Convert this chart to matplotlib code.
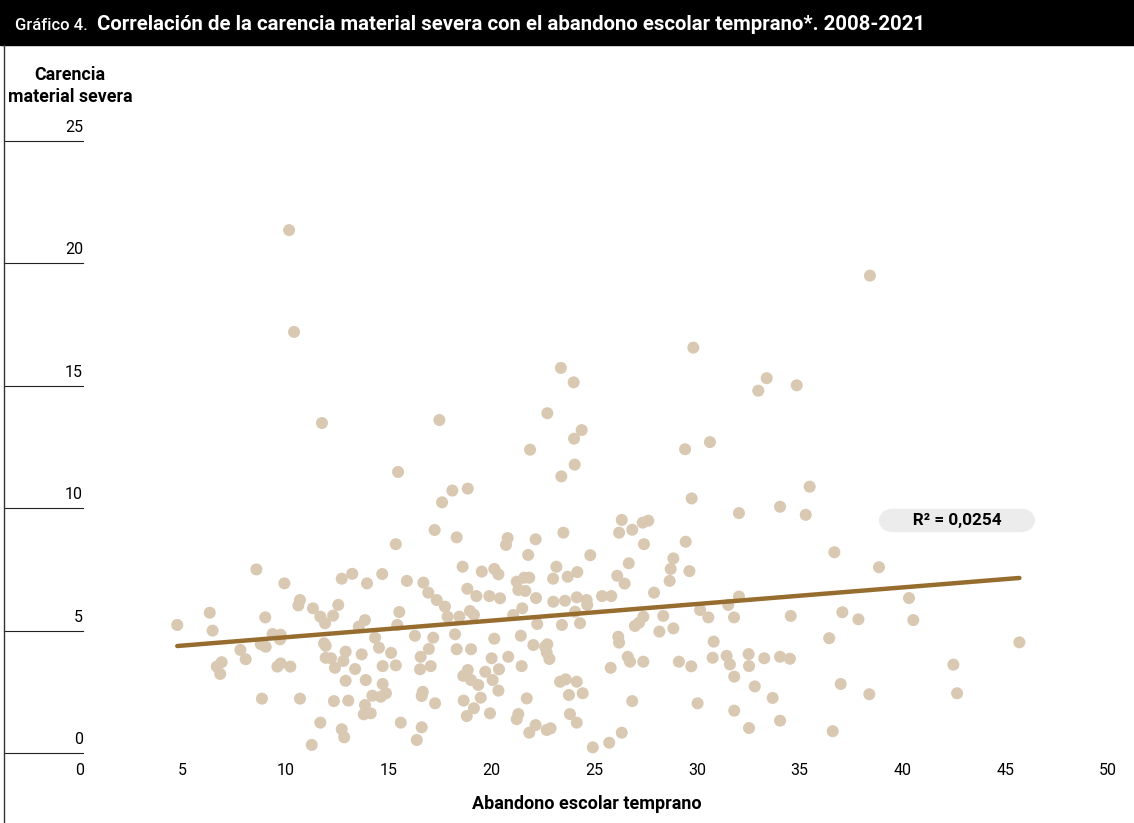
import matplotlib
matplotlib.use("Agg")
import matplotlib.pyplot as plt
from matplotlib.lines import Line2D
from matplotlib.patches import Rectangle

plt.rcParams['font.family'] = ['Roboto', 'DejaVu Sans']

# abandono escolar temprano (x) / carencia material severa (y)
abandono = [
    10.17, 10.41, 11.77, 15.47,
    15.36, 8.58, 9.94, 12.73, 13.24, 13.96, 14.70, 15.90,
    10.70, 10.62, 11.33, 12.56, 6.31, 4.73, 6.45, 9.01,
    11.69, 12.31, 11.92, 13.86, 13.56, 15.53, 15.43, 9.37,
    9.76, 9.73, 8.79, 9.03, 7.80, 8.06, 11.87, 11.95,
    14.35, 14.54, 15.13, 12.92, 13.70, 11.95, 12.21, 12.81,
    12.40, 13.38, 6.89, 6.65, 6.82, 9.60, 9.76, 10.23,
    14.72, 15.36, 12.92, 13.90, 14.72, 14.22, 14.63, 14.88,
    8.85, 10.70, 12.35, 13.05, 13.86, 13.80, 14.14, 15.60,
    11.69, 12.73, 12.85, 11.27,
    21.80, 24.82, 18.61, 19.54, 20.15, 20.35, 23.17, 23.01,
    23.72, 24.19, 26.69, 26.13, 26.49, 16.70, 16.94, 17.35,
    17.75, 17.88, 18.45, 18.84, 19.28, 18.97, 19.16, 19.91,
    20.43, 21.24, 21.60, 21.85, 21.32, 21.66, 22.18, 21.51,
    21.07, 23.02, 23.59, 24.16, 24.64, 24.67, 25.39, 25.84,
    24.08, 22.24, 23.44, 24.32, 27.40, 27.19, 26.99, 16.29,
    17.18, 18.24, 20.15, 21.44, 16.97, 16.57, 18.32, 19.02,
    20.83, 20.02, 16.54, 17.06, 22.05, 22.62, 22.73, 22.70,
    22.83, 21.48, 20.38, 19.71, 18.86, 18.64, 19.02, 19.37,
    20.07, 20.35, 19.49, 18.66, 19.16, 18.81, 19.94, 21.73,
    23.35, 23.62, 24.16, 23.78, 24.45, 23.83, 24.16, 21.32,
    21.24, 22.16, 21.85, 22.70, 22.89, 24.94, 25.74, 26.35,
    26.86, 25.81, 26.18, 26.22, 26.64, 26.75, 27.40, 16.67,
    16.62, 17.27, 16.62, 16.38,
    23.39, 24.01, 22.73, 17.48, 24.40, 24.03, 21.89, 24.06,
    23.41, 18.11, 18.86, 17.61, 17.25, 18.32, 20.80, 20.72,
    22.16, 23.51, 26.35, 26.22, 26.86, 27.37, 27.64, 27.43,
    38.42, 29.83, 33.40, 32.99, 34.86, 29.43, 30.64, 29.75,
    35.49, 32.05, 34.05, 35.30,
    29.46, 28.86, 28.73, 29.64, 28.68, 27.92, 32.05, 31.53,
    28.37, 28.18, 28.86, 30.16, 30.56, 31.81, 34.57, 36.69,
    38.86, 37.08, 37.86, 36.44, 30.82, 30.77, 31.45, 31.61,
    32.52, 32.54, 33.28, 34.05, 34.53, 31.82, 32.82, 33.69,
    37.00, 38.39, 29.13, 29.73, 30.04, 31.82, 32.54, 34.05,
    36.61,
    40.32, 40.53, 45.69, 42.48, 42.66,
]
carencia = [
    21.36, 17.20, 13.48, 11.48,
    8.53, 7.50, 6.93, 7.12, 7.32, 6.93, 7.31, 7.03,
    6.25, 6.03, 5.91, 6.05, 5.73, 5.23, 5.00, 5.54,
    5.57, 5.61, 5.30, 5.43, 5.16, 5.76, 5.23, 4.86,
    4.83, 4.64, 4.45, 4.34, 4.21, 3.83, 4.48, 4.38,
    4.71, 4.30, 4.09, 4.14, 4.03, 3.89, 3.87, 3.76,
    3.48, 3.43, 3.71, 3.53, 3.23, 3.53, 3.66, 3.53,
    3.55, 3.58, 2.95, 2.98, 2.82, 2.34, 2.30, 2.44,
    2.22, 2.22, 2.12, 2.14, 1.96, 1.58, 1.62, 1.24,
    1.24, 0.97, 0.64, 0.33,
    8.09, 8.08, 7.61, 7.41, 7.52, 7.30, 7.61, 7.12,
    7.20, 7.39, 7.75, 7.24, 6.92, 6.96, 6.55, 6.25,
    5.98, 5.57, 5.57, 6.71, 6.41, 5.80, 5.64, 6.41,
    6.32, 7.00, 7.16, 7.16, 6.66, 6.62, 6.33, 5.91,
    5.64, 6.18, 6.22, 6.36, 6.25, 6.05, 6.41, 6.41,
    5.77, 5.27, 5.23, 5.30, 5.57, 5.32, 5.19, 4.79,
    4.71, 4.85, 4.67, 4.79, 4.25, 3.93, 4.24, 4.24,
    3.93, 3.87, 3.42, 3.55, 4.41, 4.34, 4.44, 4.10,
    3.84, 3.55, 3.42, 3.32, 3.39, 3.15, 2.98, 2.78,
    2.98, 2.55, 2.26, 2.14, 1.83, 1.51, 1.62, 2.23,
    2.91, 3.01, 2.91, 2.37, 2.44, 1.59, 1.24, 1.59,
    1.38, 1.14, 0.83, 0.94, 1.01, 0.23, 0.42, 0.83,
    2.12, 3.48, 4.75, 4.51, 3.93, 3.73, 3.73, 2.50,
    2.33, 2.03, 1.05, 0.53,
    15.73, 15.14, 13.88, 13.60, 13.19, 12.84, 12.39, 11.78,
    11.30, 10.72, 10.80, 10.24, 9.11, 8.81, 8.78, 8.50,
    8.73, 9.00, 9.52, 9.00, 9.12, 9.41, 9.49, 8.53,
    19.50, 16.56, 15.31, 14.80, 15.02, 12.41, 12.70, 10.40,
    10.88, 9.80, 10.06, 9.73,
    8.63, 7.95, 7.52, 7.43, 7.03, 6.55, 6.39, 6.05,
    5.60, 4.96, 5.09, 5.84, 5.54, 5.54, 5.60, 8.20,
    7.59, 5.75, 5.46, 4.69, 4.55, 3.89, 3.97, 3.62,
    4.04, 3.55, 3.87, 3.93, 3.85, 3.12, 2.72, 2.25,
    2.82, 2.40, 3.73, 3.54, 2.03, 1.73, 1.02, 1.32,
    0.89,
    6.33, 5.43, 4.52, 3.61, 2.44,
]

# recta de regresión (extremos) y R2
tendencia_x = [4.73, 45.69]
tendencia_y = [4.37, 7.15]
r2_texto = "R² = 0,0254"
r2_pos = (42.65, 9.5)

x_ticks = list(range(0, 51, 5))
y_ticks = [0, 5, 10, 15, 20, 25]

titulo_num = "Gráfico 4."
titulo = "Correlación de la carencia material severa con el abandono escolar temprano*. 2008-2021"

W, H = 1134, 823
fig = plt.figure(figsize=(W / 100, H / 100), dpi=100)
ax = fig.add_axes([80 / W, 1 - 753 / H, 1028 / W, 612 / H])
ax.set_xlim(0, 50)
ax.set_ylim(0, 25)
for s in ax.spines.values():
    s.set_visible(False)

ax.scatter(abandono, carencia, s=75, color='#d9c9b3', edgecolors='none', zorder=2, clip_on=False)
ax.plot(tendencia_x, tendencia_y, color='#976d2f', lw=3.2, solid_capstyle='round', zorder=3)

ax.set_xticks(x_ticks)
ax.set_xticklabels([str(t) for t in x_ticks], fontsize=11.5)
ax.tick_params(axis='x', length=0, pad=7)
ax.set_yticks([])

trans = ax.get_yaxis_transform()
for v in y_ticks:
    ax.plot([-75 / 1028, 3 / 1028], [v, v], transform=trans, color='#222222', lw=0.8, clip_on=False)
    ax.annotate(str(v), xy=(3 / 1028, v), xycoords=trans, xytext=(0, 6.5),
                textcoords='offset points', ha='right', va='baseline', fontsize=11.5)

ax.text(r2_pos[0], r2_pos[1], "       " + r2_texto + "       ", ha='center', va='center',
        fontsize=12.3, fontweight='bold', zorder=4,
        bbox=dict(boxstyle='round,pad=0.25,rounding_size=0.9', fc='#ececec', ec='none'))

fig.text(70 / W, 1 - 86 / H, "Carencia\nmaterial severa", ha='center', va='center',
         fontsize=12.8, fontweight='bold', linespacing=1.3)
fig.text(587 / W, 1 - 804 / H, "Abandono escolar temprano", ha='center', va='center',
         fontsize=13, fontweight='bold')

# barra del título
fig.add_artist(Rectangle((0, 1 - 45 / H), 1, 45 / H, transform=fig.transFigure,
                         color='black', zorder=0))
fig.text(15 / W, 1 - 25 / H, titulo_num, color='white', fontsize=12, fontweight='medium', va='center')
fig.text(97 / W, 1 - 25 / H, titulo, color='white', fontsize=14.7, fontweight='bold', va='center')
fig.add_artist(Line2D([4 / W, 4 / W], [0, 1 - 45 / H], transform=fig.transFigure,
                      color='#333333', lw=1))

fig.savefig('out.png', dpi=100)
